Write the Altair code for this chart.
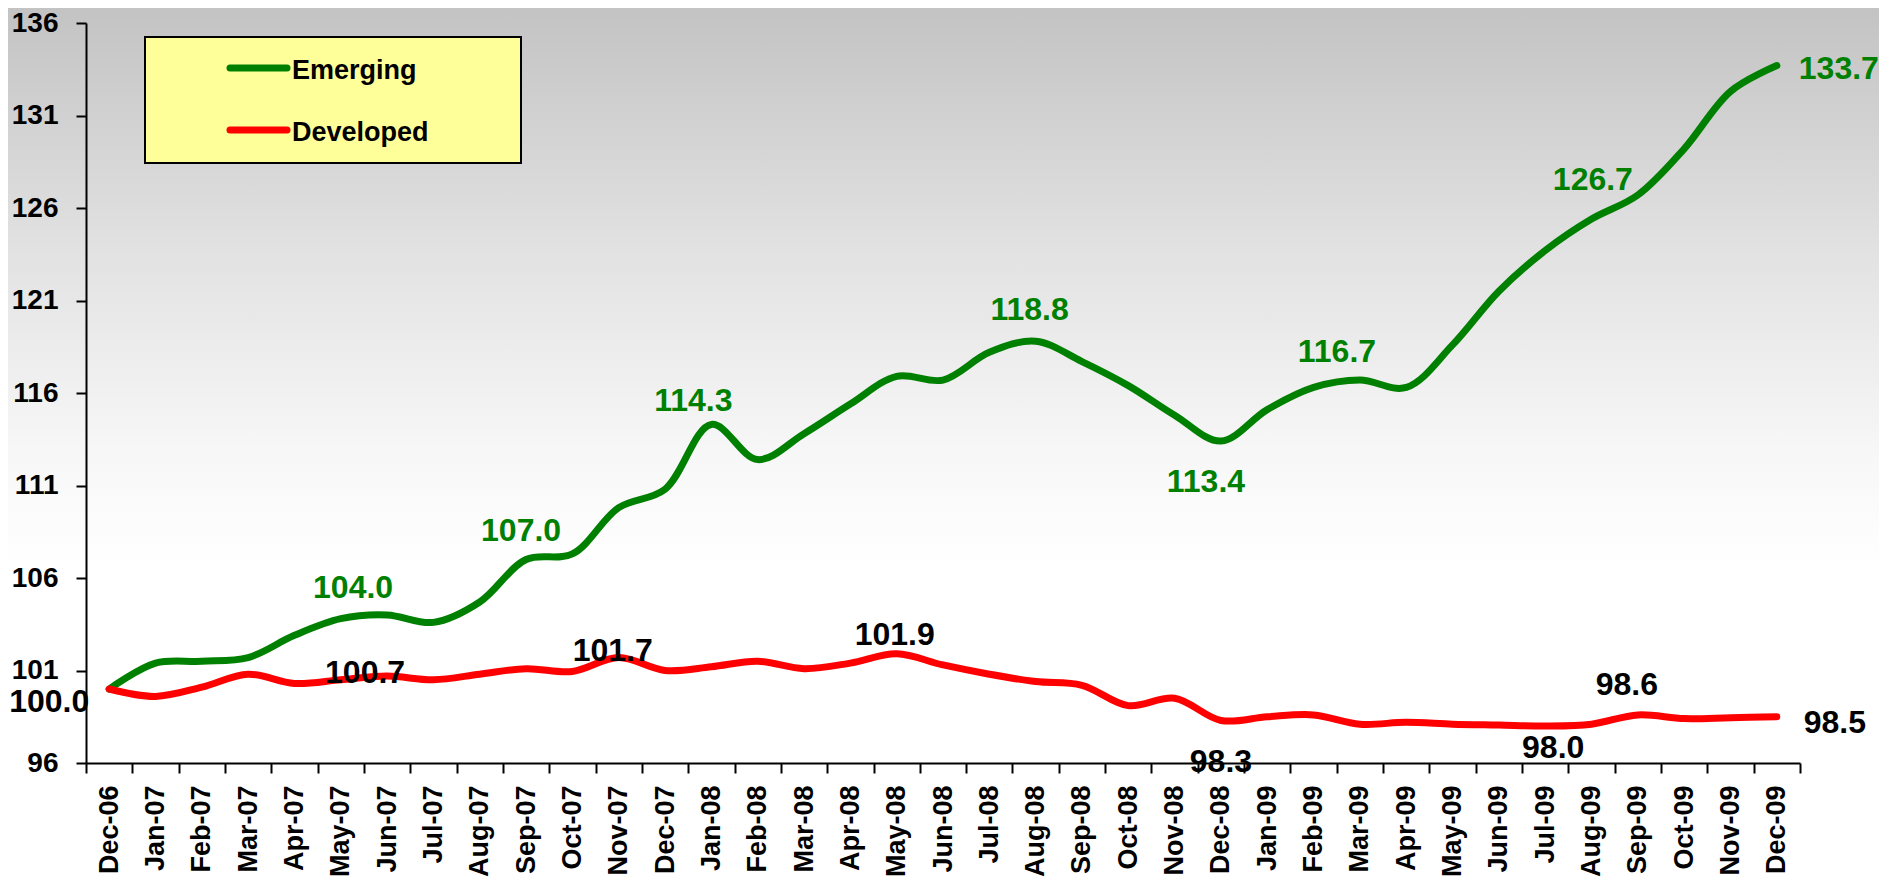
import altair as alt
import pandas as pd

# ---------------- data ----------------
months = ["Dec-06", "Jan-07", "Feb-07", "Mar-07", "Apr-07", "May-07", "Jun-07", "Jul-07",
          "Aug-07", "Sep-07", "Oct-07", "Nov-07", "Dec-07", "Jan-08", "Feb-08", "Mar-08",
          "Apr-08", "May-08", "Jun-08", "Jul-08", "Aug-08", "Sep-08", "Oct-08", "Nov-08",
          "Dec-08", "Jan-09", "Feb-09", "Mar-09", "Apr-09", "May-09", "Jun-09", "Jul-09",
          "Aug-09", "Sep-09", "Oct-09", "Nov-09", "Dec-09"]

emerging = [100.0, 101.4, 101.5, 101.7, 102.9, 103.8, 104.0, 103.6, 104.7, 107.0, 107.3,
            109.8, 110.8, 114.3, 112.4, 113.8, 115.4, 116.9, 116.7, 118.2, 118.8, 117.7,
            116.4, 114.8, 113.4, 115.1, 116.3, 116.7, 116.3, 118.6, 121.5, 123.7, 125.4,
            126.7, 129.2, 132.3, 133.7]

developed = [100.0, 99.6, 100.1, 100.8, 100.3, 100.5, 100.7, 100.5, 100.8, 101.1, 100.95,
             101.7, 101.0, 101.2, 101.5, 101.1, 101.4, 101.9, 101.3, 100.8, 100.4, 100.2,
             99.1, 99.5, 98.3, 98.5, 98.6, 98.1, 98.2, 98.1, 98.05, 98.0, 98.1, 98.6,
             98.4, 98.45, 98.5]

series_names = ["Emerging", "Developed"]
series_colors = ["#008000", "#ff0000"]
label_colors = ["#008000", "#000000"]

y_ticks = [96, 101, 106, 111, 116, 121, 126, 131, 136]

ann_series = ["Emerging"] * 8 + ["Developed"] * 8
ann_months = ["Jun-07", "Sep-07", "Jan-08", "Aug-08", "Dec-08", "Mar-09", "Sep-09", "Dec-09",
              "Dec-06", "Jun-07", "Nov-07", "May-08", "Dec-08", "Jul-09", "Sep-09", "Dec-09"]
ann_text = ["104.0", "107.0", "114.3", "118.8", "113.4", "116.7", "126.7", "133.7",
            "100.0", "100.7", "101.7", "101.9", "98.3", "98.0", "98.6", "98.5"]

# label placement offsets (pixels, style only)
ann_dx = [-34, -5, -18, -6, -15, -23, -45, 62, -60, -22, -6, -2, 0, 8, -11, 58]
ann_dy = [-17, -19, -13, -21, 51, -18, -5, 13, 23, 7, 3, -9, 52, 32, -20, 16]

# ---------------- layout / style ----------------
W, H = 1714, 740
PAD = {"left": 78, "top": 15, "right": 79, "bottom": 116}
FONT = "Liberation Sans"

long_df = pd.DataFrame({
    "month": months * 2,
    "value": emerging + developed,
    "series": [series_names[0]] * len(months) + [series_names[1]] * len(months),
})

x_enc = alt.X(
    "month:N", sort=months,
    scale=alt.Scale(type="band", paddingInner=0, paddingOuter=0),
    axis=alt.Axis(title=None, labelAngle=270, labelFontSize=27, labelPadding=12,
                  tickBand="extent", labelOverlap=False, zindex=1),
)
y_enc = alt.Y(
    "value:Q",
    scale=alt.Scale(domain=[96, 136], nice=False, zero=False),
    axis=alt.Axis(title=None, values=y_ticks, labelFontSize=28, labelPadding=18,
                  labelOverlap=False, zindex=1),
)

grad = alt.Gradient(
    gradient="linear", x1=0, y1=0, x2=0, y2=1,
    stops=[
        alt.GradientStop(offset=0, color="#c3c3c3"),
        alt.GradientStop(offset=0.28, color="#e2e2e2"),
        alt.GradientStop(offset=0.51, color="#f7f7f7"),
        alt.GradientStop(offset=0.64, color="#ffffff"),
        alt.GradientStop(offset=1, color="#ffffff"),
    ],
)
one = pd.DataFrame({"k": [0]})
bg = alt.Chart(one).mark_rect(fill=grad).encode(
    x=alt.value(-PAD["left"]), x2=alt.value(W + PAD["right"]),
    y=alt.value(-PAD["top"]), y2=alt.value(H + PAD["bottom"]),
)

lines = alt.Chart(long_df).mark_line(
    strokeWidth=7, strokeCap="round", strokeJoin="round", interpolate="catmull-rom"
).encode(
    x=x_enc, y=y_enc,
    color=alt.Color("series:N", scale=alt.Scale(domain=series_names, range=series_colors),
                    legend=None),
    detail="series:N",
)

texts = []
for s, m, t, dx, dy in zip(ann_series, ann_months, ann_text, ann_dx, ann_dy):
    col = label_colors[series_names.index(s)]
    d = pd.DataFrame({"month": [m], "value": [float(t)], "label": [t]})
    texts.append(
        alt.Chart(d).mark_text(
            font=FONT, fontSize=32, fontWeight="bold", color=col,
            align="center", baseline="alphabetic", dx=dx, dy=dy,
        ).encode(x=x_enc, y=y_enc, text="label:N")
    )

# legend box (drawn manually to match the boxed legend of the original)
leg_box = alt.Chart(one).mark_rect(fill="#ffff99", stroke="black", strokeWidth=2).encode(
    x=alt.value(59), x2=alt.value(435), y=alt.value(14), y2=alt.value(140)
)
leg_layers = [leg_box]
for i, (name, col) in enumerate(zip(series_names, series_colors)):
    yl = 45 + 62 * i
    leg_layers.append(
        alt.Chart(one).mark_rule(strokeWidth=7, strokeCap="round", color=col).encode(
            x=alt.value(144), x2=alt.value(201), y=alt.value(yl)
        )
    )
    leg_layers.append(
        alt.Chart(pd.DataFrame({"name": [name]})).mark_text(
            font=FONT, fontSize=27, fontWeight="bold", color="black",
            align="left", baseline="alphabetic",
        ).encode(x=alt.value(206), y=alt.value(yl + 11), text="name:N")
    )

chart = alt.layer(bg, lines, *texts, *leg_layers).properties(
    width=W, height=H, padding=PAD,
    autosize=alt.AutoSizeParams(type="none"),
    background="white",
).configure_view(
    stroke="black", strokeWidth=2
).configure_axis(
    labelFont=FONT, labelFontWeight="bold", labelColor="black",
    domainColor="black", domainWidth=2, tickColor="black", tickWidth=2, tickSize=10,
    grid=False,
)

chart.save("out.html", embed_options={"renderer": "svg", "actions": False})
